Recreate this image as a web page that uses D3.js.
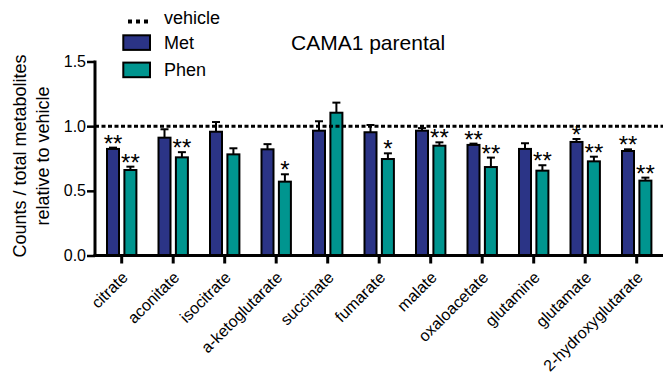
<!DOCTYPE html>
<html>
<head>
<meta charset="utf-8">
<script src="https://cdn.jsdelivr.net/npm/d3@7"></script>
<style>
  html, body { margin: 0; padding: 0; background: #fff; }
  svg { display: block; font-family: "Liberation Sans", Arial, Helvetica, sans-serif; }
</style>
</head>
<body>
<svg id="chart" width="663" height="379"></svg>
<script>
// Metabolite levels (counts / total metabolites, relative to vehicle)
const categories = ["citrate", "aconitate", "isocitrate", "a-ketoglutarate", "succinate",
  "fumarate", "malate", "oxaloacetate", "glutamine", "glutamate", "2-hydroxyglutarate"];
const groups = ["Met", "Phen"];
const metValues  = [0.824, 0.911, 0.957, 0.821, 0.965, 0.953, 0.965, 0.855, 0.824, 0.878, 0.808];
const metErrors  = [0.010, 0.065, 0.075, 0.040, 0.073, 0.056, 0.020, 0.010, 0.044, 0.023, 0.013];
const phenValues = [0.661, 0.759, 0.782, 0.571, 1.104, 0.746, 0.849, 0.684, 0.656, 0.728, 0.579];
const phenErrors = [0.026, 0.040, 0.047, 0.057, 0.078, 0.044, 0.026, 0.073, 0.042, 0.036, 0.023];
const metStars   = ["**", "", "", "", "", "", "", "**", "", "*", "**"];
const phenStars  = ["**", "**", "", "*", "", "*", "**", "**", "**", "**", "**"];
const yTicks = [0, 0.5, 1.0, 1.5];
const yTickLabels = ["0.0", "0.5", "1.0", "1.5"];
const vehicleLevel = 1.0;

const colors = { Met: "#2b3486", Phen: "#00958f" };

const svg = d3.select("#chart");

const x = d3.scaleBand().domain(categories).range([95.95, 662.45]).padding(0);
const xSub = d3.scaleBand().domain(groups).range([-14.7, 14.7]).paddingInner(0.31);
const y = d3.scaleLinear().domain([0, 1.5]).range([255.5, 61.5]);

const cx = c => x(c) + x.bandwidth() / 2;

const rows = [];
categories.forEach((c, i) => {
  rows.push({ cat: c, grp: "Met", v: metValues[i], e: metErrors[i], s: metStars[i] });
  rows.push({ cat: c, grp: "Phen", v: phenValues[i], e: phenErrors[i], s: phenStars[i] });
});

// error bars (upper only)
const eb = svg.append("g").attr("stroke", "#000").attr("stroke-width", 2).attr("fill", "none");
rows.forEach(d => {
  const mx = cx(d.cat) + xSub(d.grp) + xSub.bandwidth() / 2;
  eb.append("line").attr("x1", mx).attr("x2", mx).attr("y1", y(d.v)).attr("y2", y(d.v + d.e));
  eb.append("line").attr("x1", mx - 4).attr("x2", mx + 4).attr("y1", y(d.v + d.e)).attr("y2", y(d.v + d.e));
});

// bars
svg.append("g").selectAll("rect").data(rows).join("rect")
  .attr("x", d => cx(d.cat) + xSub(d.grp))
  .attr("width", xSub.bandwidth())
  .attr("y", d => y(d.v))
  .attr("height", d => y(0) - y(d.v))
  .attr("fill", d => colors[d.grp])
  .attr("stroke", "#000")
  .attr("stroke-width", 2);

// significance marks
svg.append("g").selectAll("text").data(rows.filter(d => d.s)).join("text")
  .attr("x", d => cx(d.cat) + xSub(d.grp) + xSub.bandwidth() / 2)
  .attr("y", d => y(d.v + d.e) + 4)
  .attr("text-anchor", "middle")
  .attr("font-size", 24)
  .attr("fill", "#000")
  .text(d => d.s);

// vehicle reference line
svg.append("line")
  .attr("x1", 95).attr("x2", 663)
  .attr("y1", y(vehicleLevel)).attr("y2", y(vehicleLevel))
  .attr("stroke", "#000").attr("stroke-width", 3)
  .attr("stroke-dasharray", "4,2.5");

// y axis
const yAxis = d3.axisLeft(y).tickValues(yTicks).tickFormat((d, i) => yTickLabels[i])
  .tickSize(8).tickSizeOuter(0).tickPadding(1);
const gy = svg.append("g").attr("transform", "translate(95,0)").call(yAxis);
gy.select(".domain").remove();
gy.selectAll(".tick line").attr("stroke", "#000").attr("stroke-width", 2.5);
gy.selectAll(".tick text").attr("font-size", 16).attr("fill", "#000")
  .attr("font-family", "Liberation Sans, Arial, sans-serif");
svg.append("line").attr("x1", 95).attr("x2", 95).attr("y1", y(1.5) - 1).attr("y2", y(0) + 1.5)
  .attr("stroke", "#000").attr("stroke-width", 3);

// x axis
const xAxis = d3.axisBottom(x).tickSize(8).tickSizeOuter(0).tickFormat("");
const gx = svg.append("g").attr("transform", `translate(0,${y(0)})`).call(xAxis);
gx.select(".domain").remove();
gx.selectAll(".tick line").attr("stroke", "#000").attr("stroke-width", 3);
svg.append("line").attr("x1", 93.5).attr("x2", 663).attr("y1", y(0)).attr("y2", y(0))
  .attr("stroke", "#000").attr("stroke-width", 3);

svg.append("g").selectAll("text").data(categories).join("text")
  .attr("text-anchor", "end")
  .attr("font-size", 16)
  .attr("fill", "#000")
  .attr("transform", d => `translate(${cx(d) + 7},${y(0) + 23}) rotate(-45)`)
  .text(d => d);

// y axis title
const yt = svg.append("text")
  .attr("transform", `translate(0,156) rotate(-90)`)
  .attr("text-anchor", "middle")
  .attr("font-size", 18)
  .attr("fill", "#000");
yt.append("tspan").attr("x", 0).attr("y", 26).text("Counts / total metabolites");
yt.append("tspan").attr("x", 0).attr("y", 49).text("relative to vehicle");

// chart title
svg.append("text").attr("x", 291).attr("y", 50)
  .attr("font-size", 21).attr("fill", "#000").text("CAMA1 parental");

// legend
const lg = svg.append("g");
lg.append("line").attr("x1", 128).attr("x2", 148).attr("y1", 21.5).attr("y2", 21.5)
  .attr("stroke", "#000").attr("stroke-width", 4).attr("stroke-dasharray", "4,4");
lg.append("text").attr("x", 164).attr("y", 23.5).attr("font-size", 18).text("vehicle");
groups.forEach((g, i) => {
  lg.append("rect").attr("x", 123.3).attr("y", 35.3 + i * 27.3).attr("width", 26.7).attr("height", 14.6)
    .attr("fill", colors[g]).attr("stroke", "#000").attr("stroke-width", 2);
  lg.append("text").attr("x", 164).attr("y", 49 + i * 27).attr("font-size", 18).text(g);
});
</script>
</body>
</html>
